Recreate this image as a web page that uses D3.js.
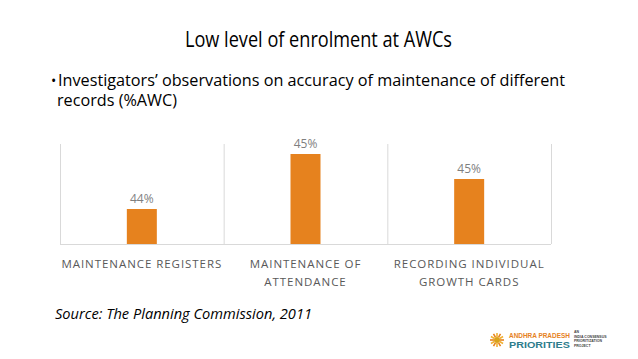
<!DOCTYPE html>
<html lang="en">
<head>
  <meta charset="UTF-8">
  <title>Low level of enrolment at AWCs</title>
  <script src="https://d3js.org/d3.v7.min.js"></script>
  <style>
    html, body { margin: 0; padding: 0; background: #fff; }
    svg { display: block; }
  </style>
</head>
<body>
  <svg width="638" height="359"></svg>

  <script>
    // Chart data
    const categories = [
      ["MAINTENANCE REGISTERS"],
      ["MAINTENANCE OF", "ATTENDANCE"],
      ["RECORDING INDIVIDUAL", "GROWTH CARDS"]
    ];
    const values = [44.2, 45.3, 44.8];
    const valueLabels = ["44%", "45%", "45%"];
    const yDomain = [43.5, 45.5];

    const titleText = "Low level of enrolment at AWCs";
    const bulletLines = [
      "Investigators\u2019 observations on accuracy of maintenance of different",
      "records (%AWC)"
    ];
    const sourceText = "Source: The Planning Commission, 2011";
    const logoSmall = ["AN", "INDIA CONSENSUS", "PRIORITIZATION", "PROJECT"];

    const svg = d3.select("svg");
    const font = "'Open Sans', 'Liberation Sans', sans-serif";
    const margin = {top: 144, right: 87, bottom: 115, left: 60};
    const width = 638, height = 359;

    // Title
    svg.append("text")
      .attr("x", 318.5).attr("y", 47)
      .attr("text-anchor", "middle")
      .attr("font-family", font)
      .attr("font-size", 22)
      .attr("fill", "#000")
      .attr("textLength", 267).attr("lengthAdjust", "spacingAndGlyphs")
      .text(titleText);

    // Bullet
    svg.append("text")
      .attr("x", 51).attr("y", 86)
      .attr("font-family", font).attr("font-size", 14).attr("fill", "#000")
      .text("\u2022");
    svg.selectAll("text.bullet")
      .data(bulletLines)
      .enter().append("text")
      .attr("class", "bullet")
      .attr("x", (d, i) => i === 0 ? 58 : 57)
      .attr("y", (d, i) => 86 + i * 20)
      .attr("font-family", font)
      .attr("font-size", 16)
      .attr("fill", "#000")
      .attr("textLength", (d, i) => i === 0 ? 507 : 120)
      .attr("lengthAdjust", "spacingAndGlyphs")
      .text(d => d);

    // Scales
    const x = d3.scaleBand()
      .domain(d3.range(categories.length))
      .range([margin.left, width - margin.right])
      .padding(0);

    const y = d3.scaleLinear()
      .domain(yDomain)
      .range([height - margin.bottom, margin.top]);

    const plot = svg.append("g");

    // Vertical separators between categories
    const bounds = x.domain().map(d => x(d)).concat([x.range()[1]]);
    plot.selectAll("line.sep")
      .data(bounds)
      .enter().append("line")
      .attr("class", "sep")
      .attr("x1", d => d + 0.5).attr("x2", d => d + 0.5)
      .attr("y1", margin.top).attr("y2", height - margin.bottom)
      .attr("stroke", "#d9d9d9").attr("stroke-width", 1);

    // Baseline
    plot.append("line")
      .attr("x1", margin.left).attr("x2", width - margin.right)
      .attr("y1", height - margin.bottom + 0.5).attr("y2", height - margin.bottom + 0.5)
      .attr("stroke", "#d9d9d9").attr("stroke-width", 1);

    // Bars
    const barW = 30;
    plot.selectAll("rect.bar")
      .data(values)
      .enter().append("rect")
      .attr("class", "bar")
      .attr("x", (d, i) => x(i) + x.bandwidth() / 2 - barW / 2)
      .attr("y", d => y(d))
      .attr("width", barW)
      .attr("height", d => y(yDomain[0]) - y(d))
      .attr("fill", "#e6821e");

    // Value labels
    plot.selectAll("text.val")
      .data(values)
      .enter().append("text")
      .attr("class", "val")
      .attr("x", (d, i) => x(i) + x.bandwidth() / 2)
      .attr("y", d => y(d) - 6)
      .attr("text-anchor", "middle")
      .attr("font-family", font)
      .attr("font-size", 12)
      .attr("fill", "#7f7f7f")
      .text((d, i) => valueLabels[i]);

    // Category labels
    const catG = plot.selectAll("g.cat")
      .data(categories)
      .enter().append("g")
      .attr("class", "cat")
      .attr("transform", (d, i) => `translate(${x(i) + x.bandwidth() / 2},0)`);
    catG.selectAll("text")
      .data(d => d)
      .enter().append("text")
      .attr("x", 0)
      .attr("y", (d, i) => 268 + i * 18)
      .attr("text-anchor", "middle")
      .attr("font-family", font)
      .attr("font-size", 11.5)
      .attr("letter-spacing", 0.95)
      .attr("fill", "#595959")
      .text(d => d);

    // Source
    svg.append("text")
      .attr("x", 55).attr("y", 319)
      .attr("font-family", font)
      .attr("font-size", 15)
      .attr("font-style", "italic")
      .attr("fill", "#000")
      .attr("textLength", 257).attr("lengthAdjust", "spacingAndGlyphs")
      .text(sourceText);

    // Logo (bottom right)
    const logo = svg.append("g").attr("transform", "translate(497,340)");
    d3.range(12).forEach(k => {
      const a = k * Math.PI / 6;
      logo.append("line")
        .attr("x1", Math.cos(a) * 3).attr("y1", Math.sin(a) * 3)
        .attr("x2", Math.cos(a) * 7).attr("y2", Math.sin(a) * 7)
        .attr("stroke", k % 2 ? "#f2b134" : "#e6821e").attr("stroke-width", 1.6);
    });
    logo.append("circle").attr("r", 3).attr("fill", "#d9a21b");

    // squeeze a logo word horizontally so its real box is the wanted width
    function logoWord(txt, tx, ty, size, color, w) {
      const t = svg.append("text")
        .attr("font-family", "'Liberation Sans', sans-serif")
        .attr("font-weight", "bold")
        .attr("font-size", size)
        .attr("fill", color)
        .text(txt);
      const s = w / t.node().getComputedTextLength();
      t.attr("transform", `translate(${tx},${ty}) scale(${s},1)`);
    }
    logoWord("ANDHRA PRADESH", 509, 337.5, 8, "#e6821e", 61);
    logoWord("PRIORITIES", 509, 348, 9, "#2e7d8c", 61);

    svg.selectAll("text.small")
      .data(logoSmall)
      .enter().append("text")
      .attr("class", "small")
      .attr("x", 574)
      .attr("y", (d, i) => 333 + i * 4.6)
      .attr("font-family", "'Liberation Sans', sans-serif")
      .attr("font-weight", "bold")
      .attr("font-size", 3.5)
      .attr("fill", "#444")
      .text(d => d);
  </script>
</body>
</html>
